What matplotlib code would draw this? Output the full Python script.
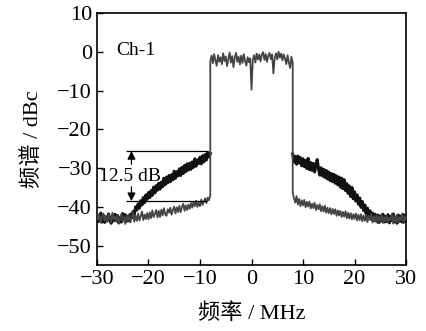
import numpy as np
import matplotlib
matplotlib.use('Agg')
import matplotlib.pyplot as plt

plt.rcParams['font.family'] = ['Liberation Serif', 'Noto Sans CJK SC']
plt.rcParams['axes.unicode_minus'] = True

# frequency grids (MHz), 0.25 MHz step
f_left = np.arange(-30.0, -8.0 + 0.001, 0.25)
f_band = np.arange(-8.0, 8.0 + 0.001, 0.25)
f_right = np.arange(8.0, 30.0 + 0.001, 0.25)

# grey trace (dBc): left wing, in-band, right wing
grey_left = [
    -41.6, -43.4, -42.0, -44.1, -42.5, -41.7, -43.6, -42.3,
    -43.9, -41.9, -42.8, -44.0, -41.5, -43.2, -42.4, -43.8,
    -42.0, -44.3, -42.9, -41.8, -43.7, -42.6, -44.4, -42.1,
    -43.5, -41.9, -44.0, -42.7, -41.4, -43.8, -42.2, -43.6,
    -41.7, -43.5, -42.4, -41.2, -43.4, -42.0, -43.1, -41.6,
    -43.2, -41.4, -42.9, -40.9, -42.6, -41.8, -40.8, -42.7,
    -41.0, -42.6, -40.7, -42.2, -40.3, -41.9, -42.3, -40.6,
    -41.5, -40.2, -42.0, -40.8, -39.9, -41.7, -40.1, -41.3,
    -39.7, -41.4, -40.0, -39.2, -41.0, -39.6, -40.8, -39.4,
    -40.5, -39.0, -40.2, -38.7, -39.8, -38.4, -40.0, -38.9,
    -39.8, -38.1, -39.5, -38.6, -37.8, -39.0, -37.6, -38.3,
    -37.0]
band = [
    -2.5, -1.0, -3.0, -0.6, -2.3, -3.6, -0.9, -2.6,
    -1.4, -3.2, -0.4, -2.4, -1.2, -3.7, -1.9, -0.2,
    -2.8, -1.1, -4.0, -1.5, -0.3, -2.6, -1.3, -3.3,
    -1.0, -2.9, -0.6, -2.4, -3.6, -1.4, -2.7, -1.7,
    -9.8, -2.2, -0.9, -2.8, -0.5, -2.0, -0.7, -2.5,
    -0.8, -0.1, -2.1, -0.6, -2.6, -1.0, -0.3, -1.9,
    -0.7, -5.6, -1.6, -0.4, -2.0, 0.0, -1.5, -0.5,
    -2.2, -0.7, -1.8, -3.2, -0.9, -2.8, -4.2, -1.3,
    -2.9]
grey_right = [
    -36.2, -37.8, -38.9, -37.2, -39.4, -37.9, -39.8, -38.3,
    -39.6, -38.2, -40.1, -38.7, -39.9, -38.6, -40.4, -39.2,
    -40.3, -38.9, -40.8, -39.5, -40.6, -39.3, -41.1, -39.8,
    -41.2, -39.7, -41.5, -40.2, -41.6, -40.3, -41.9, -40.5,
    -41.8, -40.6, -42.3, -40.9, -42.2, -41.0, -42.6, -41.3,
    -42.5, -41.1, -42.9, -41.5, -43.0, -41.6, -43.2, -41.9,
    -43.1, -41.7, -43.5, -42.0, -43.4, -41.9, -43.7, -42.2,
    -43.6, -42.0, -43.9, -42.3, -43.3, -41.8, -44.0, -42.4,
    -43.7, -42.1, -44.2, -42.5, -43.6, -41.9, -44.1, -42.6,
    -43.8, -42.2, -44.0, -42.7, -43.5, -41.8, -44.3, -42.4,
    -43.9, -42.0, -44.1, -42.6, -43.4, -41.7, -44.2, -42.5,
    -43.3]

# black trace (dBc): wings only
black_left = [
    -42.0, -43.8, -42.5, -41.6, -43.9, -42.2, -44.0, -42.7,
    -43.5, -41.8, -43.1, -44.2, -42.3, -43.6, -41.9, -43.4,
    -42.2, -44.1, -42.8, -43.9, -41.7, -43.3, -42.0, -43.7,
    -42.4, -43.6, -41.9, -42.8, -41.2, -41.9, -40.0, -40.8,
    -39.2, -40.3, -38.4, -39.5, -37.6, -38.9, -36.9, -38.0,
    -36.3, -37.6, -35.8, -37.0, -34.9, -36.4, -34.5, -35.7,
    -33.9, -35.4, -33.6, -34.8, -32.6, -34.3, -32.3, -33.8,
    -31.9, -33.5, -31.7, -33.0, -30.8, -32.6, -30.9, -32.0,
    -30.2, -31.9, -29.8, -31.4, -29.3, -30.9, -28.9, -30.5,
    -28.7, -30.3, -28.4, -29.8, -27.6, -29.5, -27.9, -28.8,
    -27.2, -28.9, -26.8, -28.4, -26.5, -27.9, -25.9, -27.1,
    -26.2]
black_right = [
    -26.4, -28.5, -27.0, -29.0, -26.9, -28.7, -27.3, -29.4,
    -27.6, -29.6, -28.0, -30.1, -27.5, -30.4, -28.6, -30.6,
    -28.8, -31.0, -29.2, -27.8, -30.1, -31.8, -29.9, -32.0,
    -30.3, -32.4, -30.6, -32.8, -31.0, -33.2, -31.4, -33.5,
    -31.6, -33.9, -32.0, -34.3, -32.3, -34.9, -32.6, -35.3,
    -33.0, -35.8, -34.0, -36.5, -34.6, -37.3, -35.0, -37.9,
    -36.1, -38.5, -36.9, -39.3, -37.7, -40.1, -38.6, -40.9,
    -39.5, -41.8, -40.3, -42.5, -41.0, -43.2, -41.6, -43.5,
    -41.9, -43.7, -42.1, -44.0, -42.3, -43.6, -41.9, -43.9,
    -42.4, -43.8, -42.0, -44.1, -42.5, -43.5, -41.8, -43.9,
    -42.6, -44.2, -42.1, -43.7, -42.4, -43.9, -42.0, -43.8,
    -42.8]

# 12.5 dB marker levels
level_hi = -25.6
level_lo = -38.5

fig = plt.figure(figsize=(4.27, 3.31), dpi=100)
ax = fig.add_axes([0.227, 0.199, 0.724, 0.762])

ax.plot(f_left, black_left, color='#111111', lw=2.2, zorder=2)
ax.plot(f_right, black_right, color='#111111', lw=2.2, zorder=2)

f_grey = np.concatenate([f_left, f_band, f_right])
v_grey = np.concatenate([grey_left, band, grey_right])
ax.plot(f_grey, v_grey, color='#444444', lw=1.3, zorder=3)

# annotation
ax.hlines([level_hi, level_lo], -24.4, -8.7, color='black', lw=0.9, zorder=4)
ax.annotate('', xy=(-23.3, level_hi), xytext=(-23.3, -29.0),
            arrowprops=dict(arrowstyle='-|>', color='black', lw=0.9,
                            mutation_scale=12, shrinkA=0, shrinkB=0))
ax.annotate('', xy=(-23.3, level_lo), xytext=(-23.3, -34.8),
            arrowprops=dict(arrowstyle='-|>', color='black', lw=0.9,
                            mutation_scale=12, shrinkA=0, shrinkB=0))
ax.text(-29.6, -32.2, '12.5 dB', fontsize=14, ha='left', va='center', zorder=5)
ax.text(-26.2, 0.3, 'Ch-1', fontsize=14, ha='left', va='center')

ax.set_xlim(-30, 30)
ax.set_ylim(-55, 10)
ax.set_xticks([-30, -20, -10, 0, 10, 20, 30])
ax.set_yticks([-50, -40, -30, -20, -10, 0, 10])
ax.tick_params(direction='in', length=4, width=1, labelsize=16, colors='black')
for s in ax.spines.values():
    s.set_linewidth(1.2)

ax.set_xlabel('频率 / MHz', fontsize=16, labelpad=10)
ax.set_ylabel('频谱 / dBc', fontsize=16, labelpad=10)

fig.savefig('out.png', dpi=100)
